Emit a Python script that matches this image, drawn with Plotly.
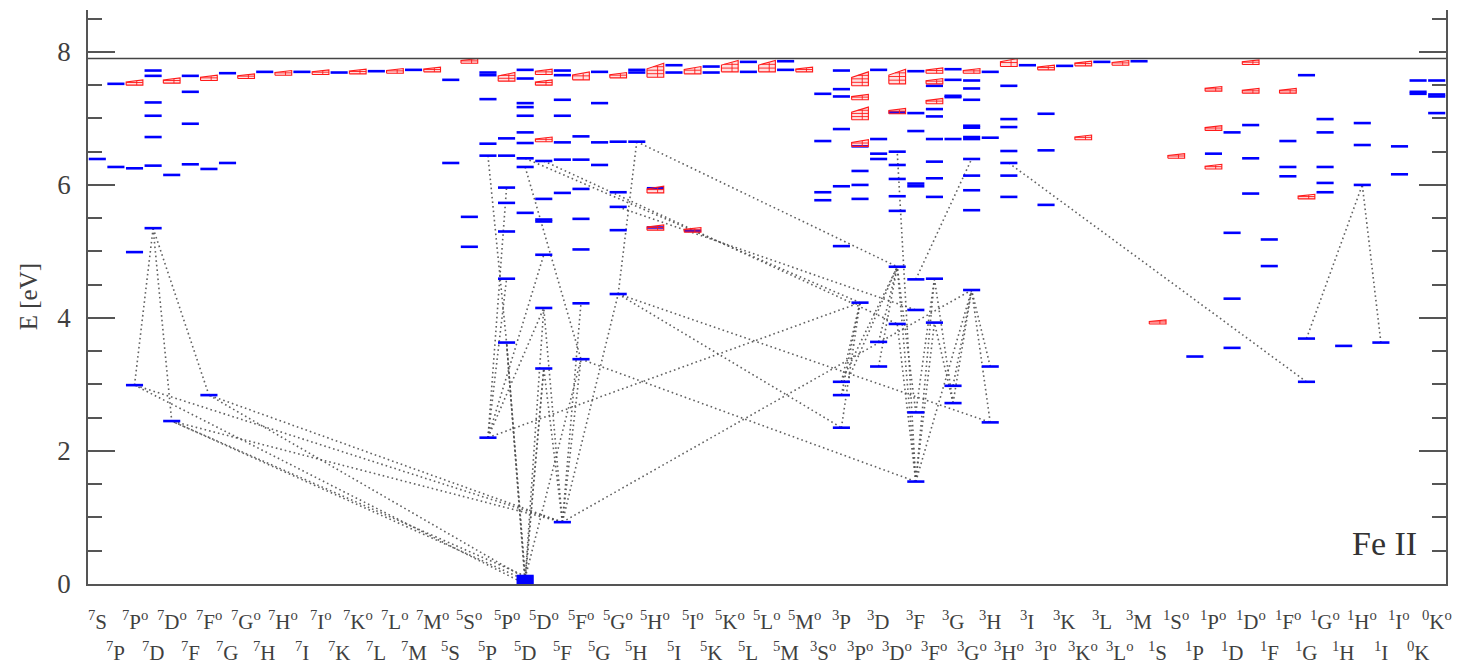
import plotly.graph_objects as go

# Term columns, ordered by multiplicity label, then L, even before odd parity
TERMS = [
    "7S", "7P", "7Po", "7D", "7Do", "7F", "7Fo", "7G", "7Go", "7H", "7Ho",
    "7I", "7Io", "7K", "7Ko", "7L", "7Lo", "7M", "7Mo",
    "5S", "5So", "5P", "5Po", "5D", "5Do", "5F", "5Fo", "5G", "5Go", "5H", "5Ho",
    "5I", "5Io", "5K", "5Ko", "5L", "5Lo", "5M", "5Mo",
    "3So", "3P", "3Po", "3D", "3Do", "3F", "3Fo", "3G", "3Go", "3H", "3Ho",
    "3I", "3Io", "3K", "3Ko", "3L", "3Lo", "3M",
    "1S", "1So", "1P", "1Po", "1D", "1Do", "1F", "1Fo", "1G", "1Go", "1H", "1Ho",
    "1I", "1Io",
    "0K", "0Ko",
]

IONIZATION_LIMIT = 7.90  # eV

# Bound levels (eV) per term
LEVELS_7 = [
    ("7S", [6.39]),
    ("7P", [7.52, 6.27]),
    ("7Po", [6.25, 4.99, 2.99]),
    ("7D", [7.72, 7.64, 7.24, 7.04, 6.72, 6.29, 5.35]),
    ("7Do", [6.15, 2.45]),
    ("7F", [7.64, 7.40, 6.92, 6.31]),
    ("7Fo", [6.24, 2.84]),
    ("7G", [7.68, 6.33]),
    ("7H", [7.70]),
    ("7I", [7.70]),
    ("7K", [7.69]),
    ("7L", [7.71]),
    ("7M", [7.73]),
]

LEVELS_5 = [
    ("5S", [7.58, 6.33]),
    ("5So", [5.52, 5.07]),
    ("5P", [7.69, 7.65, 7.29, 6.62, 6.44, 2.20]),
    ("5Po", [6.70, 6.44, 5.96, 5.73, 5.30, 4.59, 3.63]),
    ("5D", [7.73, 7.60, 7.23, 7.17, 7.04, 6.79, 6.63, 6.40, 6.27, 5.58,
            0.12, 0.09, 0.06, 0.03, 0.00]),
    ("5Do", [6.36, 5.79, 5.48, 5.45, 4.95, 4.15, 3.24]),
    ("5F", [7.72, 7.65, 7.28, 7.04, 6.64, 6.38, 5.88, 0.93]),
    ("5Fo", [6.73, 6.38, 5.94, 5.49, 5.03, 4.22, 3.38]),
    ("5G", [7.70, 7.23, 6.64, 6.30]),
    ("5Go", [6.65, 5.89, 5.67, 5.32, 4.36]),
    ("5H", [7.73, 7.69, 6.65]),
    ("5Ho", [5.95, 5.36]),
    ("5I", [7.80, 7.69]),
    ("5Io", [5.31]),
    ("5K", [7.78, 7.69]),
    ("5L", [7.85, 7.70]),
    ("5M", [7.86, 7.73]),
]

LEVELS_3 = [
    ("3So", [7.37, 6.66, 5.89, 5.77]),
    ("3P", [7.72, 7.44, 7.33, 6.84, 5.98, 5.08, 3.04, 2.84, 2.35]),
    ("3Po", [6.58, 6.21, 6.00, 5.79, 4.23]),
    ("3D", [7.73, 6.69, 6.47, 6.39, 3.64, 3.27]),
    ("3Do", [7.09, 6.50, 6.30, 6.09, 5.83, 5.61, 4.77, 3.91]),
    ("3F", [7.71, 7.08, 6.81, 6.02, 5.98, 4.58, 4.12, 2.58, 1.54]),
    ("3Fo", [7.49, 7.14, 7.03, 6.69, 6.35, 6.10, 5.82, 4.59, 3.93]),
    ("3G", [7.74, 7.58, 7.34, 7.32, 6.69, 2.98, 2.72]),
    ("3Go", [7.57, 7.45, 7.28, 6.89, 6.86, 6.72, 6.69, 6.39, 6.14, 5.92, 5.62, 4.42]),
    ("3H", [7.70, 6.71, 3.27, 2.43]),
    ("3Ho", [7.49, 6.99, 6.87, 6.51, 6.33, 6.14, 5.82]),
    ("3I", [7.80]),
    ("3Io", [7.07, 6.52, 5.70]),
    ("3K", [7.79]),
    ("3L", [7.85]),
    ("3M", [7.86]),
]

LEVELS_1 = [
    ("1P", [3.42]),
    ("1Po", [6.47]),
    ("1D", [6.79, 5.28, 4.29, 3.55]),
    ("1Do", [6.90, 6.40, 5.87]),
    ("1F", [5.18, 4.78]),
    ("1Fo", [6.66, 6.27, 6.13]),
    ("1G", [7.65, 3.69, 3.04]),
    ("1Go", [6.99, 6.79, 6.27, 6.03, 5.89]),
    ("1H", [3.58]),
    ("1Ho", [6.93, 6.60, 6.00]),
    ("1I", [3.63]),
    ("1Io", [6.58, 6.16]),
    ("0K", [7.57, 7.40, 7.37]),
    ("0Ko", [7.57, 7.36, 7.33, 7.08]),
]

# Autoionizing / broadened level groups: (term, lower eV, upper eV)
AUTOIONIZING = [
    ("7Po", 7.50, 7.58), ("7Do", 7.53, 7.61), ("7Fo", 7.57, 7.65),
    ("7Go", 7.60, 7.67), ("7Ho", 7.65, 7.72), ("7Io", 7.66, 7.73),
    ("7Ko", 7.67, 7.74), ("7Lo", 7.68, 7.75), ("7Mo", 7.70, 7.77),
    ("5So", 7.83, 7.90), ("5Po", 7.56, 7.69),
    ("5Do", 7.66, 7.74), ("5Do", 7.50, 7.58), ("5Do", 6.65, 6.72),
    ("5Fo", 7.58, 7.70), ("5Go", 7.61, 7.69),
    ("5Ho", 7.62, 7.83), ("5Ho", 5.88, 5.98), ("5Ho", 5.32, 5.40),
    ("5Io", 7.67, 7.78), ("5Io", 5.29, 5.36),
    ("5Ko", 7.70, 7.87), ("5Lo", 7.70, 7.87), ("5Mo", 7.70, 7.77),
    ("3Po", 7.49, 7.70), ("3Po", 7.28, 7.36), ("3Po", 6.98, 7.17), ("3Po", 6.58, 6.68),
    ("3Do", 7.52, 7.74), ("3Do", 7.07, 7.15),
    ("3Fo", 7.68, 7.76), ("3Fo", 7.52, 7.60), ("3Fo", 7.22, 7.30),
    ("3Go", 7.68, 7.75), ("3Ho", 7.78, 7.90), ("3Io", 7.73, 7.80),
    ("3Ko", 7.79, 7.86), ("3Ko", 6.68, 6.75), ("3Lo", 7.80, 7.87),
    ("1S", 3.91, 3.97), ("1So", 6.40, 6.47),
    ("1Po", 7.41, 7.48), ("1Po", 6.82, 6.89), ("1Po", 6.24, 6.31),
    ("1Do", 7.81, 7.88), ("1Do", 7.38, 7.45), ("1Fo", 7.38, 7.45),
    ("1G", 5.79, 5.86),
]

# Transitions drawn as dotted lines: (term, eV, term, eV)
TRANSITIONS_7 = [
    ("7D", 5.35, "7Po", 2.99), ("7D", 5.35, "7Do", 2.45), ("7D", 5.35, "7Fo", 2.84),
    ("5D", 0.00, "7Po", 2.99), ("5F", 0.93, "7Po", 2.99),
    ("5D", 0.06, "7Do", 2.45), ("5D", 0.12, "7Do", 2.45), ("5F", 0.93, "7Do", 2.45),
    ("5F", 0.93, "7Fo", 2.84), ("5D", 0.09, "7Fo", 2.84),
]

TRANSITIONS_5 = [
    ("5D", 0.00, "5Po", 3.63), ("5D", 0.06, "5Po", 3.63), ("5D", 0.12, "5Po", 3.63),
    ("5D", 0.03, "5Do", 3.24), ("5D", 0.09, "5Do", 3.24),
    ("5F", 0.93, "5Do", 3.24), ("5F", 0.93, "5Do", 4.15), ("5D", 0.06, "5Do", 4.15),
    ("5D", 0.09, "5Fo", 3.38), ("5F", 0.93, "5Fo", 3.38), ("5F", 0.93, "5Fo", 4.22),
    ("5F", 0.93, "5Go", 4.36),
    ("5P", 2.20, "5Po", 5.96), ("5P", 2.20, "5Po", 4.59),
    ("5P", 2.20, "5Do", 4.95), ("5P", 2.20, "5Do", 4.15),
    ("5P", 6.44, "5Po", 3.63), ("5D", 6.27, "5Fo", 3.38),
    ("5H", 6.65, "5Go", 4.36),
]

TRANSITIONS_CROSS = [
    ("5P", 2.20, "3Po", 4.23), ("5F", 0.93, "3Go", 4.42),
    ("5Go", 4.36, "3P", 2.35), ("5Go", 4.36, "3H", 2.43),
    ("5Fo", 3.38, "3F", 1.54), ("5D", 6.40, "3Po", 4.23),
    ("5Do", 6.36, "3Do", 3.91), ("5H", 6.65, "3Do", 4.77),
    ("5Go", 5.67, "3F", 4.12),
]

TRANSITIONS_3 = [
    ("3P", 3.04, "3Po", 4.23), ("3P", 2.84, "3Po", 4.23), ("3P", 2.35, "3Po", 4.23),
    ("3P", 3.04, "3Do", 4.77), ("3P", 2.84, "3Do", 4.77),
    ("3D", 3.64, "3Do", 4.77), ("3D", 3.27, "3Do", 4.77),
    ("3F", 1.54, "3Do", 6.50), ("3F", 1.54, "3Do", 4.77), ("3F", 1.54, "3Do", 3.91),
    ("3F", 1.54, "3Fo", 4.59), ("3F", 1.54, "3Fo", 3.93), ("3F", 1.54, "3Go", 4.42),
    ("3F", 2.58, "3Do", 4.77), ("3F", 2.58, "3Fo", 4.59),
    ("3F", 4.58, "3Go", 6.39),
    ("3G", 2.98, "3Go", 4.42), ("3G", 2.72, "3Fo", 4.59), ("3G", 2.72, "3Go", 4.42),
    ("3G", 2.72, "3Fo", 3.93),
    ("3H", 2.43, "3Go", 4.42), ("3H", 3.27, "3Go", 4.42),
]

TRANSITIONS_1 = [
    ("1G", 3.04, "3Ho", 6.33),
    ("1G", 3.69, "1Ho", 6.00), ("1I", 3.63, "1Ho", 6.00),
]

col = {t: i for i, t in enumerate(TERMS)}
HALF = 0.46        # half width of a level bar, in column units
SUBLEVEL_STEP = 0.05  # spacing of inner lines inside a red group, eV
FONT = "Liberation Serif"
TEXT_COLOR = "#3f3f3f"
AXIS_COLOR = "#555555"


def term_label(term):
    mult, rest = term[0], term[1:]
    odd = rest.endswith("o")
    orbital = rest[:-1] if odd else rest
    return f"<sup>{mult}</sup>{orbital}" + ("<sup>o</sup>" if odd else "")


fig = go.Figure()

# dotted transition lines
tx, ty = [], []
for group in (TRANSITIONS_7, TRANSITIONS_5, TRANSITIONS_CROSS, TRANSITIONS_3, TRANSITIONS_1):
    for ta, ea, tb, eb in group:
        tx += [col[ta], col[tb], None]
        ty += [ea, eb, None]
fig.add_trace(go.Scatter(
    x=tx, y=ty, mode="lines", hoverinfo="skip",
    line=dict(color="rgba(80,80,80,0.9)", width=1.6, dash="1.6px,3px"),
))

# bound levels
lx, ly = [], []
for group in (LEVELS_7, LEVELS_5, LEVELS_3, LEVELS_1):
    for term, energies in group:
        c = col[term]
        for e in energies:
            lx += [c - HALF, c + HALF, None]
            ly += [e, e, None]
fig.add_trace(go.Scatter(
    x=lx, y=ly, mode="lines", hoverinfo="skip",
    line=dict(color="#0000ff", width=2.6),
))

# autoionizing groups: hollow red trapezoids with inner sub-level lines
px, py, ix, iy = [], [], [], []
for term, lo, hi in AUTOIONIZING:
    c = col[term]
    x0, x1 = c - 0.45, c + 0.45
    h = hi - lo
    top_left = lo + 0.6 * h
    px += [x0, x1, x1, x0, x0, None]
    py += [lo, lo, hi, top_left, lo, None]
    n_inner = max(1, int(round(h / SUBLEVEL_STEP)) - 1)
    for k in range(1, n_inner + 1):
        e = lo + h * k / (n_inner + 1)
        xs = x0 if e <= top_left else x0 + (x1 - x0) * (e - top_left) / (hi - top_left)
        ix += [xs, x1, None]
        iy += [e, e, None]
    ix += [c + 0.12, c + 0.12, None]
    iy += [lo, lo + 0.8 * h, None]
fig.add_trace(go.Scatter(
    x=px, y=py, mode="lines", fill="toself", hoverinfo="skip",
    fillcolor="rgba(255,60,60,0.16)", line=dict(color="#ff1a1a", width=1.1),
))
fig.add_trace(go.Scatter(
    x=ix, y=iy, mode="lines", hoverinfo="skip",
    line=dict(color="#ff1a1a", width=0.9),
))

# term labels in two staggered rows
annotations = []
for i, term in enumerate(TERMS):
    annotations.append(dict(
        x=i, y=-0.064 if i % 2 == 0 else -0.117, xref="x", yref="paper",
        text=term_label(term), showarrow=False, xanchor="center", yanchor="middle",
        font=dict(family=FONT, size=21, color=TEXT_COLOR),
    ))
annotations.append(dict(
    x=-0.044, y=0.5, xref="paper", yref="paper", text="E [eV]", textangle=-90,
    showarrow=False, xanchor="center", yanchor="middle",
    font=dict(family=FONT, size=25, color=TEXT_COLOR),
))
annotations.append(dict(
    x=0.980, y=0.0714, xref="paper", yref="paper", text="Fe II",
    showarrow=False, xanchor="right", yanchor="middle",
    font=dict(family=FONT, size=34, color="#333333"),
))

fig.update_layout(
    width=1461, height=667,
    margin=dict(l=88, r=15, t=10, b=83),
    paper_bgcolor="white", plot_bgcolor="white",
    showlegend=False,
    annotations=annotations,
    shapes=[dict(
        type="line", xref="paper", yref="y", x0=0, x1=1,
        y0=IONIZATION_LIMIT, y1=IONIZATION_LIMIT,
        line=dict(color="#444444", width=1.6),
    )],
)
fig.update_xaxes(
    range=[-0.5, len(TERMS) - 0.5], showgrid=False, zeroline=False,
    showline=True, linecolor=AXIS_COLOR, linewidth=1.6,
    ticks="", showticklabels=False, mirror=False,
)
fig.update_yaxes(
    range=[0, 8.63], tick0=0, dtick=2, showgrid=False, zeroline=False,
    showline=True, linecolor=AXIS_COLOR, linewidth=1.6, mirror="ticks",
    ticks="inside", ticklen=27, tickwidth=1.5, tickcolor=AXIS_COLOR,
    minor=dict(ticks="inside", ticklen=14, tickwidth=1.5, tickcolor=AXIS_COLOR,
               dtick=0.5, showgrid=False),
    tickfont=dict(family=FONT, size=27, color=TEXT_COLOR),
    ticklabelstandoff=10,
)

fig.write_html("out.html")
